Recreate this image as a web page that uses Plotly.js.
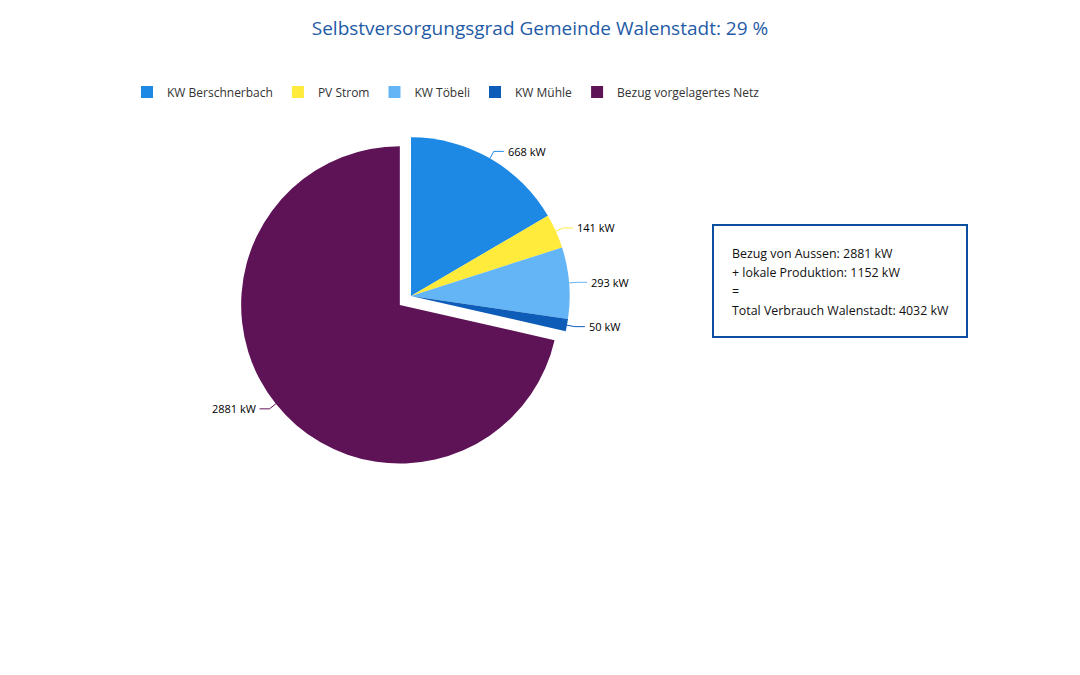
<!DOCTYPE html>
<html>
<head>
<meta charset="utf-8">
<script src="https://cdn.plot.ly/plotly-3.0.1.min.js"></script>
<style>
  html, body { margin: 0; padding: 0; background: #fff; }
  #chart { width: 1080px; height: 675px; }
</style>
</head>
<body>
<div id="chart"></div>
<script>
// chart data
var labels = ['KW Berschnerbach', 'PV Strom', 'KW Töbeli', 'KW Mühle', 'Bezug vorgelagertes Netz'];
var values = [668, 141, 293, 50, 2881];
var colors = ['#1e88e5', '#ffeb3b', '#64b5f6', '#0d5db8', '#5f1357'];
var pulls = [0, 0, 0, 0, 0.09];

var titleText = 'Selbstversorgungsgrad Gemeinde Walenstadt: 29 %';
var boxLines = [
    'Bezug von Aussen: 2881 kW',
    '+ lokale Produktion: 1152 kW',
    '=',
    'Total Verbrauch Walenstadt: 4032 kW'
];

var W = 1080, H = 675;
var FONT = '"Open Sans", "Noto Sans", sans-serif';
var pieDomain = { x: [0.2204, 0.5407], y: [0.3052, 0.8178] };

var trace = {
    type: 'pie',
    labels: labels,
    values: values,
    sort: false,
    direction: 'clockwise',
    rotation: 0,
    pull: pulls,
    marker: { colors: colors, line: { width: 0 } },
    textinfo: 'none',
    hoverinfo: 'label+value',
    domain: pieDomain,
    automargin: false
};

// pie geometry as plotly lays it out (margins are 0, so paper == pixels)
var dw = (pieDomain.x[1] - pieDomain.x[0]) * W;
var dh = (pieDomain.y[1] - pieDomain.y[0]) * H;
var cx = (pieDomain.x[0] + pieDomain.x[1]) / 2 * W;
var cy = (1 - (pieDomain.y[0] + pieDomain.y[1]) / 2) * H;
var radius = Math.min(dw, dh) / 2 / (1 + Math.max.apply(null, pulls));

function px(x) { return (x / W).toFixed(5); }
function py(y) { return (1 - y / H).toFixed(5); }

// data labels with bent connector lines, placed from the slice angles
var total = values.reduce(function(a, b) { return a + b; }, 0);
var labelShapes = [];
var labelAnns = [];
var cum = 0;
values.forEach(function(v, i) {
    var a = 2 * Math.PI * (cum + v / 2) / total;
    cum += v;
    var sx = Math.sin(a), sy = -Math.cos(a);
    var off = pulls[i] * radius;
    var ox = cx + off * sx, oy = cy + off * sy;
    var ex = ox + radius * sx, ey = oy + radius * sy;
    var bx = ox + (radius + 8) * sx, by = oy + (radius + 8) * sy;
    var side = sx >= 0 ? 1 : -1;
    var lx = bx + side * 10;
    labelShapes.push({
        type: 'path', xref: 'paper', yref: 'paper',
        path: 'M ' + px(ex) + ' ' + py(ey) + ' L ' + px(bx) + ' ' + py(by) + ' L ' + px(lx) + ' ' + py(by),
        line: { color: colors[i], width: 1 }
    });
    labelAnns.push({
        xref: 'paper', yref: 'paper',
        x: (lx + side * 2) / W, y: 1 - by / H,
        xanchor: side > 0 ? 'left' : 'right', yanchor: 'middle',
        text: v + ' kW', showarrow: false,
        font: { family: FONT, size: 11, color: '#000' }
    });
});

// text box on the right
var boxAnns = boxLines.map(function(line, i) {
    return {
        xref: 'paper', yref: 'paper',
        x: 730 / W, y: 1 - (253 + i * 19) / H,
        xanchor: 'left', yanchor: 'middle',
        text: line, showarrow: false,
        font: { family: FONT, size: 12.4, color: '#111' }
    };
});

var layout = {
    width: W,
    height: H,
    margin: { l: 0, r: 0, t: 0, b: 0 },
    paper_bgcolor: '#fff',
    font: { family: FONT, color: '#333' },
    title: {
        text: titleText,
        x: 0.5, xanchor: 'center',
        y: 1 - 28 / H, yanchor: 'middle', yref: 'container',
        font: { family: FONT, size: 19, color: '#1f5ba6' }
    },
    showlegend: true,
    legend: {
        orientation: 'h',
        x: 127 / W, xanchor: 'left',
        y: 1 - 92 / H, yanchor: 'middle',
        font: { family: FONT, size: 12, color: '#333' },
        itemwidth: 30
    },
    shapes: [{
        type: 'rect', xref: 'paper', yref: 'paper',
        x0: 713 / W, x1: 967 / W,
        y0: 1 - 337 / H, y1: 1 - 225 / H,
        line: { color: '#0b4f9e', width: 2 },
        fillcolor: 'rgba(0,0,0,0)'
    }].concat(labelShapes),
    annotations: boxAnns.concat(labelAnns)
};

Plotly.newPlot('chart', [trace], layout, { displayModeBar: false, staticPlot: true });
</script>
</body>
</html>
